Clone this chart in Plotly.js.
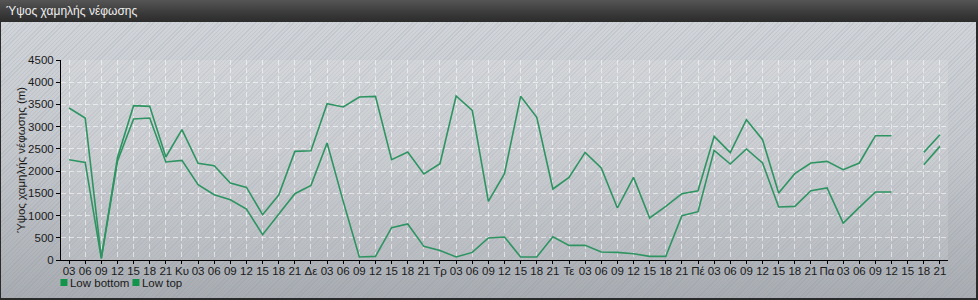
<!DOCTYPE html>
<html>
<head>
<meta charset="utf-8">
<script src="https://cdn.plot.ly/plotly-3.0.1.min.js"></script>
<style>
  html, body { margin: 0; padding: 0; }
  body { width: 978px; height: 300px; overflow: hidden; position: relative; }
  #frame {
    position: absolute; left: 0; top: 0; width: 978px; height: 300px; box-sizing: border-box;
    border: 1px solid #2a2a2a; border-right-width: 2px; border-bottom-width: 2px;
    background:
      repeating-linear-gradient(135deg, rgba(125,138,158,0.16) 0px, rgba(125,138,158,0.16) 1px, rgba(255,255,255,0) 1px, rgba(255,255,255,0) 3px),
      linear-gradient(to bottom, #d3d6da 0%, #c5c8cc 50%, #a9adb2 100%);
  }
  #header {
    position: absolute; left: 0; top: 0; width: 978px; height: 22px;
    background: linear-gradient(to bottom, #555555 0%, #3a3a3a 60%, #2c2c2c 100%);
  }
  #chart { position: absolute; left: 0; top: 0; width: 978px; height: 300px; }
</style>
</head>
<body>
<div id="frame"></div>
<div id="header"></div>
<div id="chart"></div>
<script>
const hourLabels = ["03", "06", "09", "12", "15", "18", "21"];
const dayLabels = ["Κυ", "Δε", "Τρ", "Τε", "Πέ", "Πα"];

const lowTop = [3420, 3195, 50, 2300, 3472, 3457, 2317, 2932, 2174, 2122, 1732, 1634, 1019, 1460,
  2444, 2459, 3517, 3442, 3667, 3682, 2257, 2430, 1935, 2167, 3690, 3366, 1319, 1942,
  3682, 3209, 1597, 1859, 2421, 2070, 1170, 1859, 945, 1207, 1492, 1559, 2782, 2415,
  3157, 2707, 1507, 1942, 2182, 2220, 2032, 2182, 2797, 2797, null, 2422, 2820];

const lowBottom = [2257, 2196, 30, 2220, 3172, 3195, 2205, 2241, 1694, 1469, 1357, 1147, 569, 1020,
  1492, 1679, 2632, 1319, 67, 81, 727, 810, 306, 216, 67, 171, 495, 517,
  67, 67, 524, 329, 329, 179, 171, 141, 81, 81, 997, 1087, 2467, 2160,
  2497, 2182, 1192, 1207, 1559, 1620, 832, 1184, 1530, 1530, null, 2144, 2557];

const seriesNames = ["Low bottom", "Low top"];
const titleText = "Ύψος χαμηλής νέφωσης";
const yTitleText = "Ύψος χαμηλής νέφωσης (m)";

// tick labels: 7 hour labels for the first day, then day name + 7 hours
const tickText = hourLabels.slice();
dayLabels.forEach(d => { tickText.push(d); hourLabels.forEach(h => tickText.push(h)); });
const xIdx = tickText.map((_, i) => i);

const lineColor = "#2e9462";
const legendColor = "#12944a";
const font = "'Liberation Sans', Arial, sans-serif";
const textColor = "#1a1a1a";

const traces = [
  { x: xIdx, y: lowBottom, type: "scatter", mode: "lines", name: seriesNames[0], showlegend: false,
    line: { color: lineColor, width: 1.6 }, connectgaps: false },
  { x: xIdx, y: lowTop, type: "scatter", mode: "lines", name: seriesNames[1], showlegend: false,
    line: { color: lineColor, width: 1.6 }, connectgaps: false },
  { x: [null], y: [null], type: "scatter", mode: "markers", name: seriesNames[0], showlegend: true,
    marker: { symbol: "square", size: 7, color: legendColor } },
  { x: [null], y: [null], type: "scatter", mode: "markers", name: seriesNames[1], showlegend: true,
    marker: { symbol: "square", size: 7, color: legendColor } }
];

const grid = "rgba(255,255,255,0.55)";

const layout = {
  width: 978, height: 300,
  margin: { l: 61, r: 30, t: 60, b: 40, pad: 0, autoexpand: false },
  paper_bgcolor: "rgba(0,0,0,0)",
  plot_bgcolor: "rgba(255,255,255,0.12)",
  font: { family: font, size: 11, color: textColor },
  title: { text: titleText, x: 6 / 978, xref: "container", xanchor: "left",
           y: 1 - 11 / 300, yref: "container", yanchor: "middle",
           font: { family: font, size: 12, color: "#eeeeee" } },
  xaxis: {
    range: [-0.5, xIdx.length - 0.5], automargin: false,
    tickmode: "array", tickvals: xIdx, ticktext: tickText, tickangle: 0,
    showline: true, linecolor: "#000", linewidth: 1,
    ticks: "outside", ticklen: 3, tickcolor: "#000", ticklabelstandoff: -3,
    showgrid: true, gridcolor: grid, griddash: "5px,3px", gridwidth: 1,
    zeroline: false, fixedrange: true,
    tickfont: { family: font, size: 11.5, color: textColor }
  },
  yaxis: {
    range: [0, 4500], dtick: 500, tick0: 0, automargin: false,
    showline: true, linecolor: "#000", linewidth: 1,
    ticks: "outside", ticklen: 4, tickcolor: "#000",
    showgrid: true, gridcolor: grid, griddash: "5px,3px", gridwidth: 1,
    zeroline: false, fixedrange: true,
    tickfont: { family: font, size: 11.5, color: textColor },
    title: { text: yTitleText, standoff: 0, font: { family: font, size: 11.5, color: textColor } }
  },
  showlegend: true,
  legend: { orientation: "h", x: -0.035, xanchor: "left", y: -0.04, yanchor: "top",
            bgcolor: "rgba(0,0,0,0)", font: { family: font, size: 11.5, color: textColor },
            itemwidth: 30, tracegroupgap: 0 },
  hovermode: false
};

Plotly.newPlot("chart", traces, layout, { displayModeBar: false, staticPlot: true }).then(gd => {
  // compact legend like the reference: squares close to labels, items 72px apart
  gd.querySelectorAll(".legend .legendsymbols").forEach(s => s.setAttribute("transform", "translate(14,0)"));
  const items = gd.querySelectorAll(".legend .traces");
  if (items.length > 1) {
    const m = /translate\(\s*([-\d.]+)[ ,]+([-\d.]+)\s*\)/.exec(items[0].getAttribute("transform") || "");
    if (m) {
      const x0 = parseFloat(m[1]), y0 = parseFloat(m[2]);
      items.forEach((it, i) => it.setAttribute("transform", "translate(" + (x0 + 72 * i) + "," + y0 + ")"));
    }
  }
});
</script>
</body>
</html>
